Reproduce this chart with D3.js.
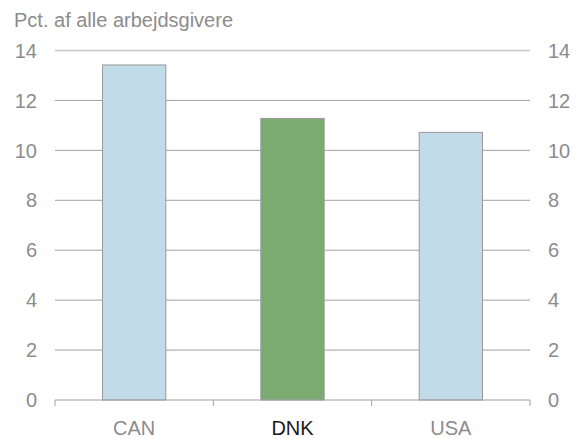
<!DOCTYPE html>
<html><head><meta charset="utf-8">
<script src="https://cdn.jsdelivr.net/npm/d3@7"></script>
<style>body{margin:0;background:#fff}svg{display:block;font-family:Arial,"Liberation Sans",sans-serif}</style>
</head><body>
<svg id="c" width="582" height="439"></svg>
<script>
const categories = ["CAN", "DNK", "USA"];
const values = [13.42, 11.28, 10.72];
const highlight = ["DNK"];
const yTicks = [0, 2, 4, 6, 8, 10, 12, 14];
const title = "Pct. af alle arbejdsgivere";

const svg = d3.select("#c");
const x = d3.scaleBand().domain(categories).range([55, 530]).paddingInner(0).paddingOuter(0);
const y = d3.scaleLinear().domain([0, 14]).range([400, 50.5]);
const barW = x.bandwidth() * 0.4;

// gridlines
svg.append("g").selectAll("line").data(yTicks.filter(d => d > 0)).join("line")
  .attr("x1", 55).attr("x2", 530)
  .attr("y1", d => y(d)).attr("y2", d => y(d))
  .attr("stroke", d => d === 14 ? "#c8c8c8" : "#a0a0a0")
  .attr("stroke-width", d => d === 14 ? 1.5 : 1);

// bars
svg.append("g").selectAll("rect").data(categories).join("rect")
  .attr("x", d => x(d) + (x.bandwidth() - barW) / 2)
  .attr("width", barW)
  .attr("y", (d, i) => y(values[i]))
  .attr("height", (d, i) => y(0) - y(values[i]))
  .attr("fill", d => highlight.includes(d) ? "#7aac72" : "#c2dbe8")
  .attr("stroke", "#999").attr("stroke-width", 1);

// x axis
const xa = svg.append("g").attr("transform", "translate(0,400)");
xa.append("line").attr("x1", 55).attr("x2", 530).attr("y1", 0).attr("y2", 0).attr("stroke", "#a0a0a0");
const bounds = categories.map(d => x(d)).concat([x.range()[1]]);
xa.selectAll("line.t").data(bounds).join("line").attr("class", "t")
  .attr("x1", d => d).attr("x2", d => d).attr("y1", 0).attr("y2", 6).attr("stroke", "#a0a0a0");
xa.selectAll("text").data(categories).join("text")
  .attr("x", d => x(d) + x.bandwidth() / 2).attr("y", 35)
  .attr("text-anchor", "middle").attr("font-size", 20)
  .attr("fill", d => highlight.includes(d) ? "#1a1a1a" : "#8c8c8c")
  .text(d => d);

// y labels
const yl = svg.append("g");
yl.selectAll("text.l").data(yTicks).join("text").attr("class", "l")
  .attr("x", 37).attr("y", d => y(d)).attr("dy", "0.36em")
  .attr("text-anchor", "end").attr("font-size", 20).attr("fill", "#8c8c8c").text(d => d);
yl.selectAll("text.r").data(yTicks).join("text").attr("class", "r")
  .attr("x", 548).attr("y", d => y(d)).attr("dy", "0.36em")
  .attr("text-anchor", "start").attr("font-size", 20).attr("fill", "#8c8c8c").text(d => d);

svg.append("text").attr("x", 14).attr("y", 27).attr("font-size", 20).attr("fill", "#8c8c8c").text(title);
</script>
</body></html>
